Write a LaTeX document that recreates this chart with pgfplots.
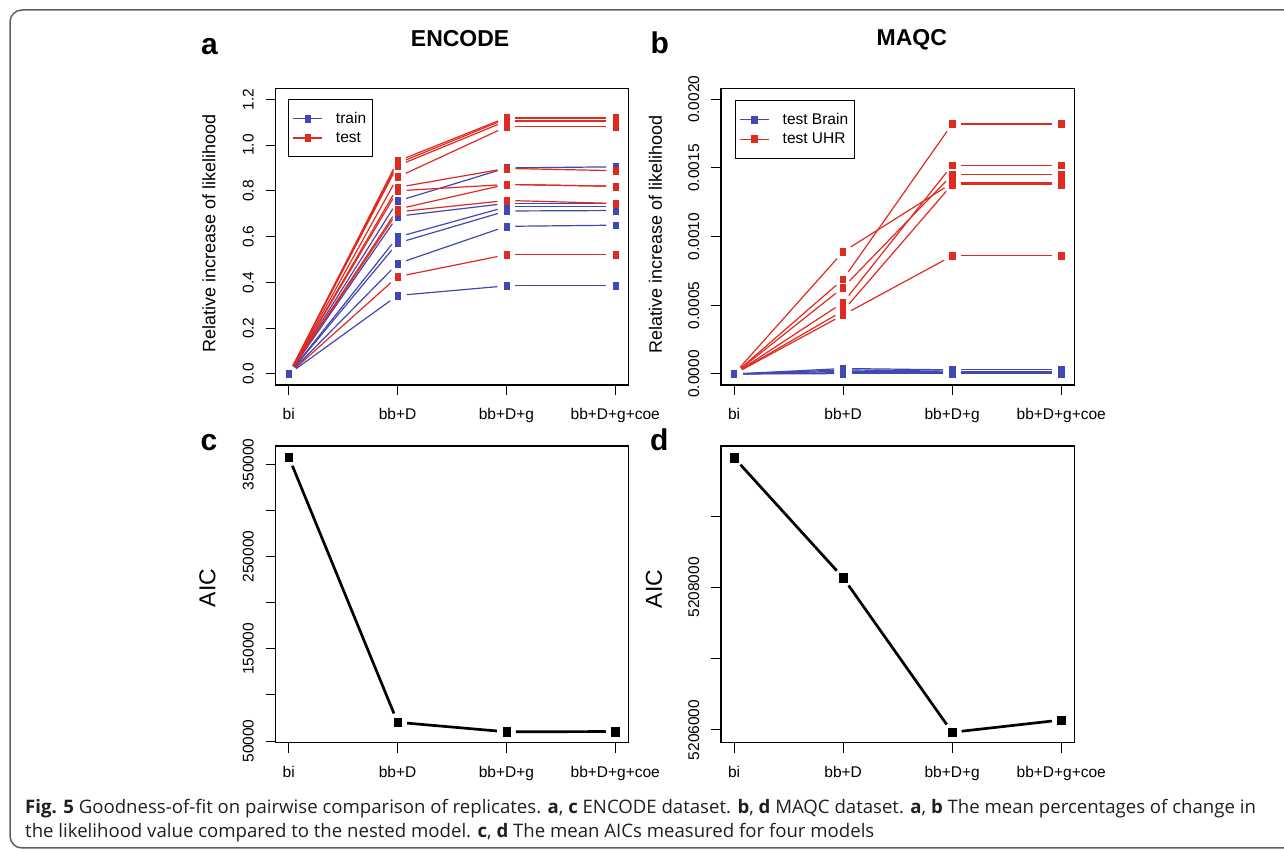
\documentclass[border=0pt]{standalone}
\usepackage{fontspec}
\setmainfont{Liberation Sans}
\newfontfamily\capfont{Open Sans}
\usepackage{pgfplots}
\pgfplotsset{compat=1.18}

\definecolor{rblue}{RGB}{64,72,178}
\definecolor{rred}{RGB}{224,42,32}
\definecolor{framegray}{RGB}{95,95,95}

\newcommand\fs[1]{\fontsize{#1bp}{#1bp}\selectfont}

% one replicate: colour, then the values at bi, bb+D, bb+D+g, bb+D+g+coe
% (type "b" of R: segments stop short of the points)
\newcommand{\serie}[5]{%
  \addplot[#1, line width=1.2bp, shorten <=9bp, shorten >=9bp, forget plot] coordinates {(1,#2) (2,#3)};
  \addplot[#1, line width=1.2bp, shorten <=9bp, shorten >=9bp, forget plot] coordinates {(2,#3) (3,#4)};
  \addplot[#1, line width=1.2bp, shorten <=9bp, shorten >=9bp, forget plot] coordinates {(3,#4) (4,#5)};
  \addplot[#1, only marks, mark=square*, mark size=3bp, mark options={xscale=0.85,yscale=1.15}, forget plot]
    coordinates {(1,#2) (2,#3) (3,#4) (4,#5)};
}

\pgfplotsset{
  rpanel/.style={
    scale only axis, width=352.6bp, height=296.7bp,
    xmin=0.88, xmax=4.12,
    xtick={1,2,3,4}, xticklabels={bi,bb+D,bb+D+g,bb+D+g+coe},
    xtick pos=bottom, ytick pos=left,
    tick align=outside, major tick length=10bp,
    axis line style={line width=1.1bp},
    every tick/.style={black, line width=1bp},
    ticklabel style={font=\fs{15.5}},
    xticklabel style={anchor=base, inner sep=0pt},
    yticklabel style={rotate=90, anchor=base, inner sep=0pt},
    xticklabel shift=24.5bp, yticklabel shift=12bp,
    scaled ticks=false,
    legend image code/.code={\draw[mark repeat=2,mark phase=2,#1] plot coordinates {(0bp,0bp) (14.5bp,0bp) (29bp,0bp)};},
    legend style={draw=black, line width=1bp, font=\fs{15.5}, anchor=north west,
      inner xsep=4bp, inner ysep=11bp, row sep=3bp,
      /tikz/every odd column/.append style={column sep=11bp}},
    legend cell align=left,
  },
  legmark/.style={line width=1.2bp, mark=square*, mark size=3bp, mark options={xscale=0.85,yscale=1.15}},
}

\begin{document}
\begin{tikzpicture}[x=1bp, y=1bp]
\path[use as bounding box] (0,0) rectangle (1284,852);
\draw[framegray, line width=1.5bp, rounded corners=12bp] (10,4) rectangle (1310,842);

% ---------- a : ENCODE ----------
\begin{axis}[rpanel, at={(275.7bp,467bp)},
  ymin=-0.048, ymax=1.248,
  ytick={0,0.2,0.4,0.6,0.8,1.0,1.2}, yticklabels={0.0,0.2,0.4,0.6,0.8,1.0,1.2},
  title={ENCODE}, title style={at={(axis description cs:0.523,1.12)}, anchor=base, font=\fs{23}\bfseries},
  ylabel={Relative increase of likelihood},
  ylabel style={at={(axis description cs:-0.1892,0.5113)}, anchor=center, font=\fs{18}},
  legend style={at={(axis description cs:0.0357,0.964)}},
]
\addlegendimage{rblue, legmark}\addlegendentry{train}
\addlegendimage{rred, legmark}\addlegendentry{test}
\serie{rred}{0}{0.93}{1.12}{1.12}
\serie{rblue}{0}{0.755}{0.90}{0.905}
\serie{rred}{0}{0.92}{1.115}{1.115}
\serie{rblue}{0}{0.689}{0.745}{0.745}
\serie{rred}{0}{0.91}{1.105}{1.105}
\serie{rblue}{0}{0.598}{0.73}{0.73}
\serie{rred}{0}{0.86}{1.08}{1.08}
\serie{rred}{0}{0.815}{0.898}{0.888}
\serie{rblue}{0}{0.572}{0.712}{0.714}
\serie{rred}{0}{0.80}{0.828}{0.82}
\serie{rred}{0}{0.72}{0.828}{0.82}
\serie{rblue}{0}{0.482}{0.645}{0.65}
\serie{rred}{0}{0.708}{0.758}{0.745}
\serie{rred}{0}{0.425}{0.521}{0.521}
\serie{rblue}{0}{0.343}{0.385}{0.385}
\end{axis}

% ---------- b : MAQC ----------
\begin{axis}[rpanel, at={(721bp,467bp)}, width=353.3bp,
  ymin=-0.00008, ymax=0.00208,
  ytick={0,0.0005,0.001,0.0015,0.002}, yticklabels={0.0000,0.0005,0.0010,0.0015,0.0020},
  title={MAQC}, title style={at={(axis description cs:0.5398,1.1234)}, anchor=base, font=\fs{23}\bfseries},
  ylabel={Relative increase of likelihood},
  ylabel style={at={(axis description cs:-0.1854,0.5089)}, anchor=center, font=\fs{18}},
  legend style={at={(axis description cs:0.0396,0.9606)}},
]
\addlegendimage{rblue, legmark}\addlegendentry{test Brain}
\addlegendimage{rred, legmark}\addlegendentry{test UHR}
\serie{rred}{0}{0.00089}{0.00139}{0.00139}
\serie{rred}{0}{0.00069}{0.00182}{0.00182}
\serie{rred}{0}{0.00063}{0.00145}{0.00145}
\serie{rred}{0}{0.00052}{0.00152}{0.00152}
\serie{rred}{0}{0.00046}{0.00138}{0.00138}
\serie{rred}{0}{0.00043}{0.00086}{0.00086}
\serie{rblue}{0}{0.00004}{0.00003}{0.00003}
\serie{rblue}{0}{0.00003}{0.00002}{0.00002}
\serie{rblue}{0}{0.00002}{0.000015}{0.000015}
\serie{rblue}{0}{0.00001}{0.00001}{0.00001}
\serie{rblue}{0}{0.000003}{0.000003}{0.000003}
\end{axis}

% ---------- c : ENCODE AIC ----------
\begin{axis}[rpanel, at={(275.7bp,109.3bp)},
  ymin=48200, ymax=369800,
  ytick={50000,100000,150000,200000,250000,300000,350000},
  yticklabels={50000,,150000,,250000,,350000},
  ylabel={AIC},
  ylabel style={at={(axis description cs:-0.1934,0.5214)}, anchor=center, font=\fs{23}},
]
\addplot[black, line width=2.7bp, shorten <=9.5bp, shorten >=9.5bp] coordinates {(1,357900) (2,70300)};
\addplot[black, line width=2.7bp, shorten <=9.5bp, shorten >=9.5bp] coordinates {(2,70300) (3,60000)};
\addplot[black, line width=2.7bp, shorten <=9.5bp, shorten >=9.5bp] coordinates {(3,60000) (4,60300)};
\addplot[black, only marks, mark=square*, mark size=4bp, mark options={xscale=0.9,yscale=1.05}]
  coordinates {(1,357900) (2,70300) (3,60000) (4,60300)};
\end{axis}

% ---------- d : MAQC AIC ----------
\begin{axis}[rpanel, at={(721bp,109.3bp)}, width=353.3bp,
  ymin=5205822, ymax=5209982,
  ytick={5206000,5207000,5208000,5209000},
  yticklabels={5206000,,5208000,},
  ylabel={AIC},
  ylabel style={at={(axis description cs:-0.1896,0.518)}, anchor=center, font=\fs{23}},
]
\addplot[black, line width=2.7bp, shorten <=9.5bp, shorten >=9.5bp] coordinates {(1,5209818) (2,5208135)};
\addplot[black, line width=2.7bp, shorten <=9.5bp, shorten >=9.5bp] coordinates {(2,5208135) (3,5205968)};
\addplot[black, line width=2.7bp, shorten <=9.5bp, shorten >=9.5bp] coordinates {(3,5205968) (4,5206140)};
\addplot[black, only marks, mark=square*, mark size=4bp, mark options={xscale=0.9,yscale=1.05}]
  coordinates {(1,5209818) (2,5208135) (3,5205968) (4,5206140)};
\end{axis}

% panel letters
\node[anchor=base west, inner sep=0pt, font=\fs{30}\bfseries] at (201,797) {a};
\node[anchor=base west, inner sep=0pt, font=\fs{30}\bfseries] at (650.5,798) {b};
\node[anchor=base west, inner sep=0pt, font=\fs{30}\bfseries] at (200.5,401.3) {c};
\node[anchor=base west, inner sep=0pt, font=\fs{30}\bfseries] at (650,401) {d};

% caption
\node[anchor=base west, inner sep=0pt, font=\capfont\fs{18.6}, text=black!88] at (25,38)
  {\textbf{Fig. 5} Goodness-of-fit on pairwise comparison of replicates. \textbf{a}, \textbf{c} ENCODE dataset. \textbf{b}, \textbf{d} MAQC dataset. \textbf{a}, \textbf{b} The mean percentages of change in};
\node[anchor=base west, inner sep=0pt, font=\capfont\fs{18.6}, text=black!88] at (25,14)
  {the likelihood value compared to the nested model. \textbf{c}, \textbf{d} The mean AICs measured for four models};
\end{tikzpicture}
\end{document}
